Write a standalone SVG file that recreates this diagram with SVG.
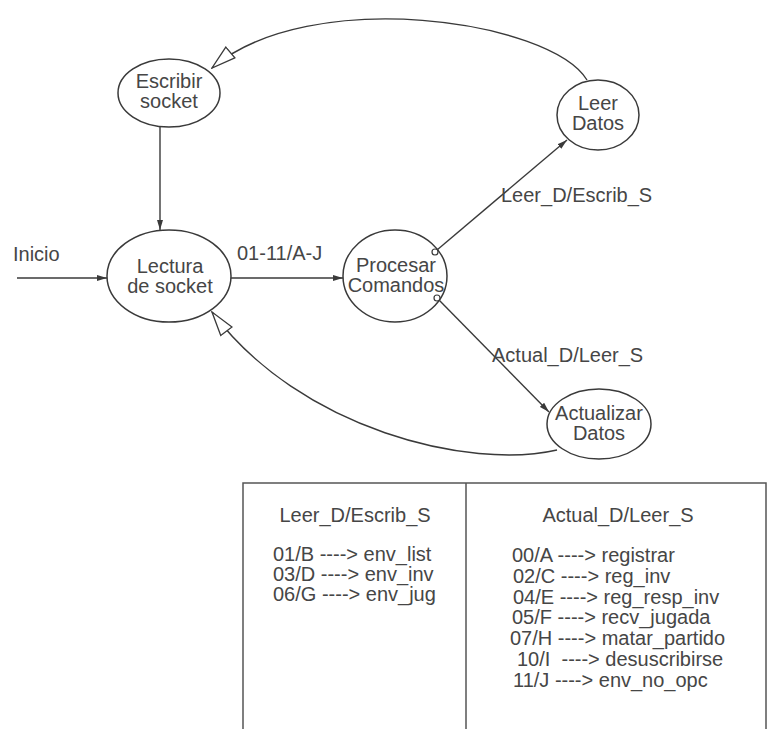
<svg xmlns="http://www.w3.org/2000/svg" width="770" height="729" viewBox="0 0 770 729">
<style>
  .node { fill: #ffffff; stroke: #3a3a3a; stroke-width: 1.5; }
  .lbl { font-family: "Liberation Sans", Arial, sans-serif; font-size: 20px; fill: #464646; }
  .mid { text-anchor: middle; }
  .edge { fill: none; stroke: #3a3a3a; stroke-width: 1.4; }
  .tbl { fill: none; stroke: #555555; stroke-width: 1.5; }
  .dot { fill: #ffffff; stroke: #3a3a3a; stroke-width: 1.2; }
</style>
<defs>
  <marker id="arrFill" viewBox="0 0 10 6" refX="10" refY="3" markerWidth="10" markerHeight="6" markerUnits="userSpaceOnUse" orient="auto">
    <path d="M0,0 L10,3 L0,6 z" fill="#3a3a3a"/>
  </marker>
  <marker id="arrOpen" viewBox="-1 -1 26 16" refX="24" refY="7" markerWidth="26" markerHeight="16" markerUnits="userSpaceOnUse" orient="auto">
    <path d="M0,0 L24,7 L0,14 z" fill="#ffffff" stroke="#3a3a3a" stroke-width="1.3"/>
  </marker>
</defs>
<rect width="770" height="729" fill="#ffffff"/>

<g id="node-escribir">
  <ellipse class="node" cx="169" cy="93" rx="51" ry="34"/>
  <text class="lbl mid" x="169" y="88">Escribir</text>
  <text class="lbl mid" x="169" y="108">socket</text>
</g>
<g id="node-lectura">
  <ellipse class="node" cx="169" cy="276" rx="62" ry="46"/>
  <text class="lbl mid" x="170" y="273">Lectura</text>
  <text class="lbl mid" x="170" y="293">de socket</text>
</g>
<g id="node-procesar">
  <ellipse class="node" cx="395" cy="276" rx="52" ry="46"/>
  <text class="lbl mid" x="396" y="272">Procesar</text>
  <text class="lbl mid" x="396" y="292">Comandos</text>
</g>
<g id="node-leer">
  <ellipse class="node" cx="598" cy="115" rx="41" ry="35"/>
  <text class="lbl mid" x="598" y="110">Leer</text>
  <text class="lbl mid" x="598" y="130">Datos</text>
</g>
<g id="node-actualizar">
  <ellipse class="node" cx="599" cy="424" rx="52" ry="35"/>
  <text class="lbl mid" x="599" y="420">Actualizar</text>
  <text class="lbl mid" x="599" y="440">Datos</text>
</g>

<g id="connectors">
  <line class="edge" x1="17" y1="278" x2="107" y2="278" marker-end="url(#arrFill)"/>
  <line class="edge" x1="231" y1="278" x2="343" y2="278" marker-end="url(#arrFill)"/>
  <line class="edge" x1="160" y1="127" x2="160" y2="230" marker-end="url(#arrFill)"/>
  <line class="edge" x1="437" y1="250" x2="567" y2="140" marker-end="url(#arrFill)"/>
  <line class="edge" x1="439" y1="300" x2="549" y2="412" marker-end="url(#arrFill)"/>
  <path class="edge" d="M587,80 C550,20 310,-15 212,68" marker-end="url(#arrOpen)"/>
  <path class="edge" d="M557,450 C470,470 300,430 212,312" marker-end="url(#arrOpen)"/>
  <circle class="dot" cx="435" cy="252" r="3"/>
  <circle class="dot" cx="437" cy="298" r="3"/>
</g>

<g id="label-inicio"><text class="lbl" x="13" y="261">Inicio</text></g>
<g id="label-01-11"><text class="lbl" x="237" y="260">01-11/A-J</text></g>
<g id="label-leer-escrib"><text class="lbl" x="501" y="202">Leer_D/Escrib_S</text></g>
<g id="label-actual-leer"><text class="lbl" x="492" y="362">Actual_D/Leer_S</text></g>

<g id="table">
  <rect class="tbl" x="243" y="483" width="523" height="260"/>
  <line class="tbl" x1="466" y1="483" x2="466" y2="729"/>
  <text class="lbl mid" x="355" y="522">Leer_D/Escrib_S</text>
  <text class="lbl" x="273" y="561">01/B ----&gt; env_list</text>
  <text class="lbl" x="273" y="581">03/D ----&gt; env_inv</text>
  <text class="lbl" x="273" y="601">06/G ----&gt; env_jug</text>
  <text class="lbl mid" x="618" y="522">Actual_D/Leer_S</text>
  <text class="lbl" x="512" y="562">00/A ----&gt; registrar</text>
  <text class="lbl" x="513" y="583">02/C ----&gt; reg_inv</text>
  <text class="lbl" x="513" y="604">04/E ----&gt; reg_resp_inv</text>
  <text class="lbl" x="512" y="624">05/F ----&gt; recv_jugada</text>
  <text class="lbl" x="510" y="645">07/H ----&gt; matar_partido</text>
  <text class="lbl" x="517" y="666" xml:space="preserve">10/I  ----&gt; desuscribirse</text>
  <text class="lbl" x="513" y="687">11/J ----&gt; env_no_opc</text>
</g>
</svg>
